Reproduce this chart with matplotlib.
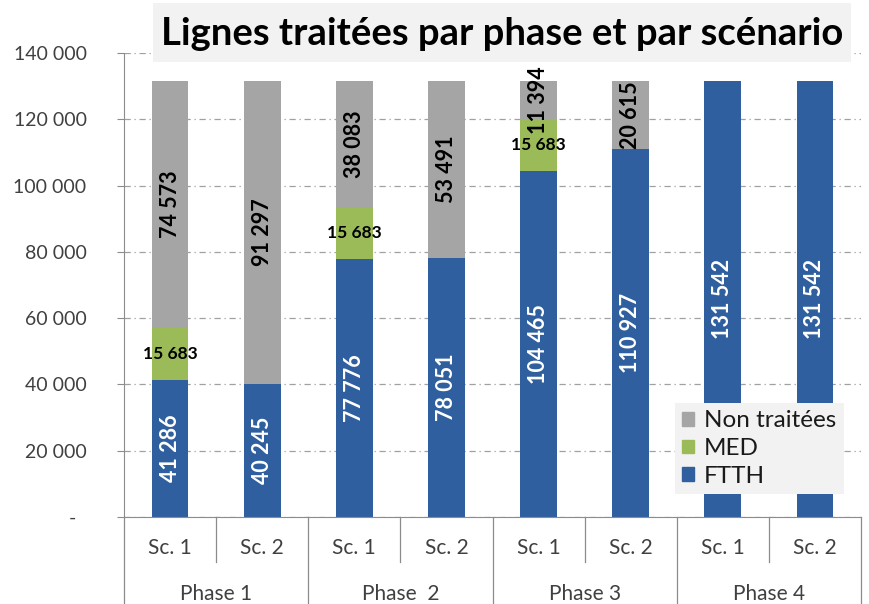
import matplotlib
matplotlib.use("Agg")
import matplotlib.pyplot as plt
from matplotlib.patches import Rectangle, Patch
from matplotlib.ticker import FuncFormatter

plt.rcParams['font.family'] = ['Lato', 'DejaVu Sans']

# data
phases = ["Phase 1", "Phase  2", "Phase 3", "Phase 4"]
scenarios = ["Sc. 1", "Sc. 2", "Sc. 1", "Sc. 2", "Sc. 1", "Sc. 2", "Sc. 1", "Sc. 2"]
ftth = [41286, 40245, 77776, 78051, 104465, 110927, 131542, 131542]
med = [15683, 0, 15683, 0, 15683, 0, 0, 0]
non_traitees = [74573, 91297, 38083, 53491, 11394, 20615, 0, 0]

c_ftth = "#2f5f9e"
c_med = "#9bbb59"
c_non = "#a5a5a5"
txt_gray = "#404040"
line_gray = "#8c8c8c"


def fmt(v):
    return f"{v:,}".replace(",", " ")


fig = plt.figure(figsize=(8.69, 6.04), dpi=100)
ax = fig.add_axes([124 / 869, 87 / 604, 737 / 869, 464 / 604])

x = list(range(len(ftth)))
bottom_non = [f + m for f, m in zip(ftth, med)]
w = 0.4

ax.bar(x, ftth, width=w, color=c_ftth, label="FTTH", zorder=2)
ax.bar(x, med, width=w, bottom=ftth, color=c_med, label="MED", zorder=2)
ax.bar(x, non_traitees, width=w, bottom=bottom_non, color=c_non, label="Non traitées", zorder=2)

# data labels
for i in x:
    if ftth[i]:
        ax.text(i, ftth[i] / 2, fmt(ftth[i]), rotation=90, ha="center", va="center",
                color="white", fontsize=15.5, fontweight="bold", zorder=3)
    if med[i]:
        ax.text(i, ftth[i] + med[i] / 2, fmt(med[i]), ha="center", va="center",
                color="black", fontsize=12.5, fontweight="bold", zorder=3)
    if non_traitees[i]:
        ax.text(i, bottom_non[i] + non_traitees[i] / 2, fmt(non_traitees[i]), rotation=90,
                ha="center", va="center", color="black", fontsize=15.5, fontweight="bold", zorder=3)

# y axis
ax.set_ylim(0, 140000)
ax.set_yticks(range(0, 140001, 20000))
ax.yaxis.set_major_formatter(FuncFormatter(lambda v, p: "-  " if v == 0 else fmt(int(v))))
ax.tick_params(axis="y", length=5, color=line_gray, labelcolor=txt_gray, labelsize=14, pad=22)
ax.yaxis.grid(True, color="#a0a0a0", linestyle=(0, (5, 3, 1, 3)), linewidth=0.9)
ax.set_axisbelow(True)

for s in ["top", "right"]:
    ax.spines[s].set_visible(False)
ax.spines["left"].set_color(line_gray)
ax.spines["bottom"].set_color(line_gray)

# two-level category axis
ax.set_xticks([])
xt = ax.get_xaxis_transform()
for i, s in enumerate(scenarios):
    ax.text(i, -0.067, s, transform=xt, ha="center", va="center", fontsize=15, color=txt_gray)
for j, p in enumerate(phases):
    ax.text(2 * j + 0.5, -0.166, p, transform=xt, ha="center", va="center", fontsize=15, color=txt_gray)
for k in range(9):
    xb = k - 0.5
    y_end = -0.19 if k % 2 == 0 else -0.097
    ax.plot([xb, xb], [0, y_end], transform=xt, color=line_gray, lw=0.9, clip_on=False)
ax.set_xlim(-0.5, 7.5)

# legend
handles = [Patch(color=c_non), Patch(color=c_med), Patch(color=c_ftth)]
leg = ax.legend(handles, ["Non traitées", "MED", "FTTH"], loc="upper left",
                bbox_to_anchor=(0.7476, 0.2457), borderaxespad=0, fontsize=17.5,
                frameon=True, fancybox=False, framealpha=1, handlelength=0.5,
                handleheight=0.5, handletextpad=0.4, labelspacing=0.28, borderpad=0.3)
leg.get_frame().set_facecolor("#f2f2f2")
leg.get_frame().set_edgecolor("none")
for t in leg.get_texts():
    t.set_color("#1a1a1a")

# title in gray box
fig.add_artist(Rectangle((153 / 869, 1 - 62 / 604), 698 / 869, 59 / 604,
                         transform=fig.transFigure, facecolor="#f2f2f2", edgecolor="none", zorder=5))
fig.text(502 / 869, 1 - 34 / 604, "Lignes traitées par phase et par scénario", ha="center", va="center",
         fontsize=27.5, fontweight="bold", color="black", zorder=6)

fig.savefig("out.png", dpi=100)
